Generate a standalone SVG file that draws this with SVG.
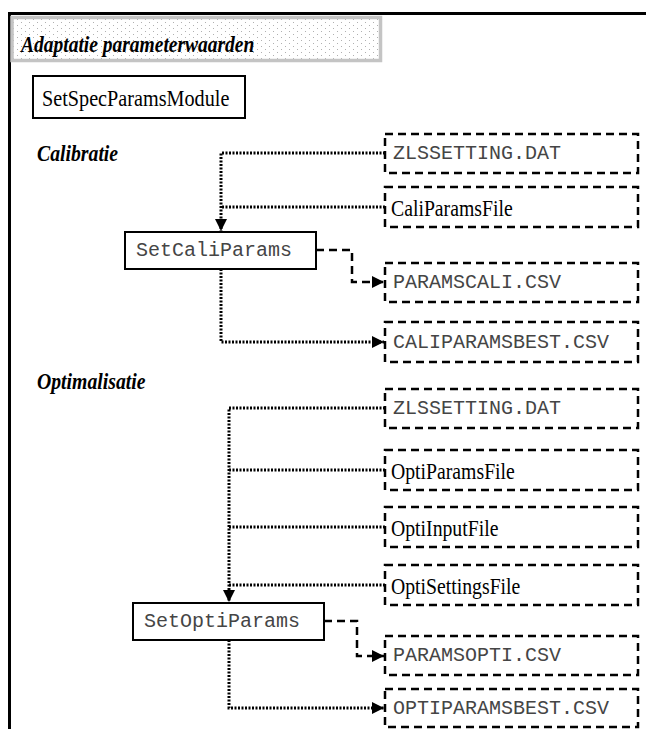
<svg xmlns="http://www.w3.org/2000/svg" width="646" height="729" viewBox="0 0 646 729">
<style>
.frame{stroke:#000;stroke-width:3;fill:none}
.node{fill:#fff;stroke:#000;stroke-width:2}
.file{fill:#fff;stroke:#000;stroke-width:2.5;stroke-dasharray:8 5}
.dot{fill:none;stroke:#000;stroke-width:3;stroke-dasharray:2 1.5}
.dash{fill:none;stroke:#000;stroke-width:2.5;stroke-dasharray:8 5}
.serif{font-family:"Liberation Serif","Times New Roman",serif;font-size:23.5px;fill:#000}
.head{font-family:"Liberation Serif","Times New Roman",serif;font-size:23.5px;font-weight:bold;font-style:italic;fill:#000}
.mono{font-family:"Liberation Mono","Courier New",monospace;font-size:20px;fill:#454545}
</style>
<defs>
<pattern id="dots" width="8" height="6" patternUnits="userSpaceOnUse">
<rect width="8" height="6" fill="#fff"/>
<rect x="1" y="1" width="1" height="1" fill="#b0b0b0"/>
<rect x="5" y="4" width="1" height="1" fill="#b0b0b0"/>
</pattern>
<marker id="arr" markerUnits="userSpaceOnUse" markerWidth="12" markerHeight="12" viewBox="0 0 12 12" refX="12" refY="6" orient="auto">
<path d="M0,0 L12,6 L0,12 z" fill="#000"/>
</marker>
</defs>

<g id="frame">
<line class="frame" x1="8" y1="13.5" x2="646" y2="13.5"/>
<line class="frame" x1="9.5" y1="12" x2="9.5" y2="729"/>
</g>

<g id="title">
<rect x="12" y="17.5" width="368.5" height="43" fill="url(#dots)" stroke="#c4c4c4" stroke-width="3.5"/>
<text class="head" transform="matrix(0.83 0 0 1 21 52)">Adaptatie parameterwaarden</text>
</g>

<g id="SetSpecParamsModule">
<rect class="node" x="33" y="76" width="212" height="42"/>
<text class="serif" transform="matrix(0.86 0 0 1 42 106)">SetSpecParamsModule</text>
</g>

<text class="head" transform="matrix(0.84 0 0 1 37 161)">Calibratie</text>
<text class="head" transform="matrix(0.84 0 0 1 37 389)">Optimalisatie</text>

<g id="connectors">
<path class="dot" d="M385,153 H221 V231" marker-end="url(#arr)"/>
<path class="dot" d="M385,207 H221"/>
<path class="dash" d="M316,250 H352 V282 H384" marker-end="url(#arr)"/>
<path class="dot" d="M221,269 V342 H384" marker-end="url(#arr)"/>
<path class="dot" d="M385,408 H229 V602" marker-end="url(#arr)"/>
<path class="dot" d="M385,470 H229"/>
<path class="dot" d="M385,527 H229"/>
<path class="dot" d="M385,585 H229"/>
<path class="dash" d="M324,621 H357 V656 H384" marker-end="url(#arr)"/>
<path class="dot" d="M229,640 V708 H384" marker-end="url(#arr)"/>
</g>

<g id="cali-zlssetting">
<rect class="file" x="385" y="134" width="253" height="39"/>
<text class="mono" x="393" y="159">ZLSSETTING.DAT</text>
</g>
<g id="caliparamsfile">
<rect class="file" x="385" y="187" width="253" height="40"/>
<text class="serif" transform="matrix(0.84 0 0 1 391 216)">CaliParamsFile</text>
</g>
<g id="SetCaliParams">
<rect class="node" x="125" y="232" width="191" height="37"/>
<text class="mono" x="136" y="256">SetCaliParams</text>
</g>
<g id="paramscali">
<rect class="file" x="385" y="263" width="253" height="39"/>
<text class="mono" x="393" y="288">PARAMSCALI.CSV</text>
</g>
<g id="caliparamsbest">
<rect class="file" x="385" y="322" width="253" height="40"/>
<text class="mono" x="393" y="348">CALIPARAMSBEST.CSV</text>
</g>

<g id="opti-zlssetting">
<rect class="file" x="385" y="389" width="253" height="39"/>
<text class="mono" x="393" y="414">ZLSSETTING.DAT</text>
</g>
<g id="optiparamsfile">
<rect class="file" x="385" y="450" width="253" height="40"/>
<text class="serif" transform="matrix(0.84 0 0 1 391 479)">OptiParamsFile</text>
</g>
<g id="optiinputfile">
<rect class="file" x="385" y="507" width="253" height="40"/>
<text class="serif" transform="matrix(0.84 0 0 1 391 536)">OptiInputFile</text>
</g>
<g id="optisettingsfile">
<rect class="file" x="385" y="565" width="253" height="40"/>
<text class="serif" transform="matrix(0.84 0 0 1 391 594)">OptiSettingsFile</text>
</g>
<g id="SetOptiParams">
<rect class="node" x="133" y="603" width="191" height="37"/>
<text class="mono" x="144" y="627">SetOptiParams</text>
</g>
<g id="paramsopti">
<rect class="file" x="385" y="636" width="253" height="39"/>
<text class="mono" x="393" y="661">PARAMSOPTI.CSV</text>
</g>
<g id="optiparamsbest">
<rect class="file" x="385" y="689" width="253" height="38"/>
<text class="mono" x="393" y="714">OPTIPARAMSBEST.CSV</text>
</g>
</svg>
